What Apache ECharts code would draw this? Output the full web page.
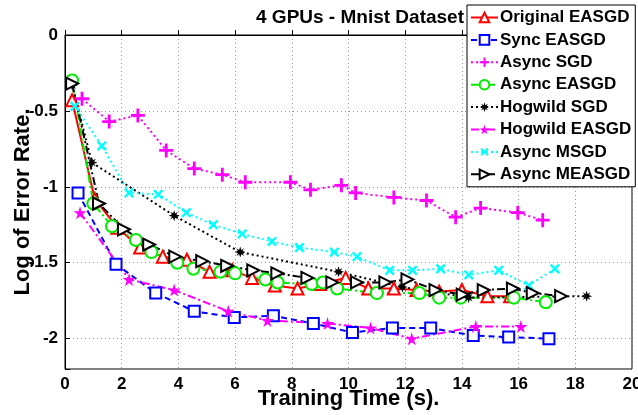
<!DOCTYPE html>
<html>
<head>
<meta charset="utf-8">
<script src="https://cdn.jsdelivr.net/npm/echarts@6/dist/echarts.min.js"></script>
<style>
  html, body { margin: 0; padding: 0; background: #fff; }
  #chart { width: 638px; height: 415px; }
</style>
</head>
<body>
<div id="chart"></div>
<script>
// values (x = training time in s, y = log of error rate)
const origX = [0.25, 1.05, 1.85, 2.65, 3.45, 4.3, 5.1, 5.9, 6.6, 7.4, 8.2, 9.0, 9.9, 10.7, 11.6, 12.4, 13.2, 14.0, 14.9, 15.7];
const origY = [-0.43, -1.08, -1.27, -1.40, -1.46, -1.48, -1.56, -1.55, -1.60, -1.65, -1.67, -1.64, -1.60, -1.67, -1.67, -1.68, -1.69, -1.68, -1.72, -1.72];

const syncX = [0.46, 1.8, 3.2, 4.56, 5.97, 7.35, 8.76, 10.14, 11.55, 12.9, 14.4, 15.65, 17.07];
const syncY = [-1.04, -1.51, -1.70, -1.82, -1.86, -1.85, -1.90, -1.96, -1.93, -1.93, -1.98, -1.99, -2.00];

const asgdX = [0.6, 1.56, 2.57, 3.57, 4.56, 5.55, 6.36, 7.95, 8.66, 9.75, 10.25, 11.6, 12.75, 13.78, 14.66, 15.97, 16.85];
const asgdY = [-0.42, -0.57, -0.53, -0.76, -0.88, -0.92, -0.97, -0.97, -1.02, -0.99, -1.04, -1.07, -1.09, -1.20, -1.14, -1.17, -1.22];

const aeasgdX = [0.25, 1.0, 1.66, 2.5, 3.05, 3.96, 4.53, 5.48, 6.0, 7.07, 7.5, 8.7, 9.1, 9.6, 11.0, 12.5, 13.2, 13.96, 15.83, 16.96];
const aeasgdY = [-0.30, -1.11, -1.26, -1.35, -1.43, -1.50, -1.54, -1.56, -1.57, -1.61, -1.63, -1.64, -1.63, -1.67, -1.70, -1.70, -1.73, -1.73, -1.73, -1.76];

const hsgdX = [0.25, 0.95, 3.85, 6.18, 9.65, 11.9, 14.24, 18.4];
const hsgdY = [-0.33, -0.84, -1.19, -1.43, -1.56, -1.66, -1.73, -1.72];

const heasgdX = [0.53, 2.26, 3.85, 5.76, 7.14, 9.26, 10.78, 12.23, 14.49, 16.08];
const heasgdY = [-1.17, -1.61, -1.68, -1.82, -1.88, -1.90, -1.93, -2.00, -1.92, -1.92];

const msgdX = [0.35, 1.3, 2.26, 3.29, 4.28, 5.23, 6.25, 7.3, 8.27, 9.5, 10.3, 11.45, 12.26, 13.25, 14.24, 15.3, 16.36, 17.28];
const msgdY = [-0.47, -0.73, -1.04, -1.05, -1.17, -1.25, -1.31, -1.36, -1.40, -1.43, -1.46, -1.55, -1.55, -1.54, -1.58, -1.55, -1.65, -1.54];

const measgdX = [0.25, 1.2, 2.08, 2.97, 3.89, 4.84, 5.72, 6.64, 7.49, 8.55, 9.43, 10.3, 11.3, 12.08, 13.07, 14.03, 14.77, 15.8, 16.5, 17.5];
const measgdY = [-0.32, -1.11, -1.28, -1.38, -1.46, -1.49, -1.52, -1.55, -1.57, -1.60, -1.63, -1.63, -1.63, -1.61, -1.68, -1.71, -1.68, -1.67, -1.70, -1.72];

const xTicks = [0, 2, 4, 6, 8, 10, 12, 14, 16, 18, 20];

function pairs(xs, ys) {
    return xs.map((x, i) => [x, ys[i]]);
}

const plusPath = 'path://M4,0H6V4H10V6H6V10H4V6H0V4H4Z';
const starPath = 'path://M50,0L61,35L98,35L68,57L79,91L50,70L21,91L32,57L2,35L39,35Z';
const asteriskPath = 'path://M50,0L60,30L85,15L70,40L100,50L70,60L85,85L60,70L50,100L40,70L15,85L30,60L0,50L30,40L15,15L40,30Z';

function makeSeries(name, xs, ys, color, lineType, symbol, size, opts) {
    opts = opts || {};
    return {
        name: name,
        type: 'line',
        data: pairs(xs, ys),
        symbol: symbol,
        symbolSize: size,
        symbolRotate: opts.rotate || 0,
        showAllSymbol: true,
        lineStyle: { color: color, width: 2, type: lineType },
        itemStyle: {
            color: opts.fill || color,
            borderColor: color,
            borderWidth: opts.border == null ? 2 : opts.border
        },
        emphasis: { disabled: true },
        animation: false
    };
}

const chart = echarts.init(document.getElementById('chart'));

const option = {
    backgroundColor: '#fff',
    title: {
        text: '4 GPUs - Mnist Dataset',
        left: 355,
        textAlign: 'center',
        top: 3,
        textStyle: { fontFamily: 'Liberation Sans', fontWeight: 'bold', fontSize: 19, color: '#000' }
    },
    legend: {
        orient: 'vertical',
        left: 467,
        top: 5,
        padding: [3, 4, 3, 3],
        itemGap: 3.4,
        itemWidth: 27,
        itemHeight: 12,
        backgroundColor: '#fff',
        borderColor: '#000',
        borderWidth: 1,
        borderRadius: 0,
        textStyle: { fontFamily: 'Liberation Sans', fontWeight: 'bold', fontSize: 17, color: '#000', lineHeight: 19, padding: [0, 0, 0, -3] }
    },
    grid: {
        left: 65,
        right: 6,
        top: 35,
        bottom: 46,
        outerBoundsMode: 'none',
        show: true,
        borderColor: '#000',
        borderWidth: 1,
        backgroundColor: '#fff'
    },
    xAxis: {
        type: 'value',
        min: 0,
        max: 20,
        interval: 2,
        name: 'Training Time (s).',
        nameLocation: 'middle',
        nameGap: 19,
        nameMoveOverlap: false,
        nameTextStyle: { fontFamily: 'Liberation Sans', fontWeight: 'bold', fontSize: 22, color: '#000' },
        axisLine: { lineStyle: { color: '#000', width: 1 } },
        axisTick: { inside: true, length: 5, lineStyle: { color: '#000' } },
        axisLabel: {
            margin: 7,
            fontFamily: 'Liberation Sans', fontWeight: 'bold', fontSize: 17, color: '#000',
            formatter: v => xTicks.indexOf(v) >= 0 ? String(v) : ''
        },
        splitLine: { show: true, lineStyle: { color: '#999', type: [1, 3], width: 1 } }
    },
    yAxis: {
        type: 'value',
        min: -2.2,
        max: 0,
        splitNumber: 5,
        name: 'Log of Error Rate.',
        nameLocation: 'middle',
        nameGap: 31,
        nameMoveOverlap: false,
        nameRotate: 90,
        nameTextStyle: { fontFamily: 'Liberation Sans', fontWeight: 'bold', fontSize: 22, color: '#000' },
        axisLine: { show: true, lineStyle: { color: '#000', width: 1 } },
        axisTick: { show: true, inside: true, length: 5, lineStyle: { color: '#000' } },
        axisLabel: {
            margin: 7,
            fontFamily: 'Liberation Sans', fontWeight: 'bold', fontSize: 17, color: '#000',
            formatter: v => (v < -2.1 ? '' : String(v))
        },
        splitLine: { show: true, lineStyle: { color: '#999', type: [1, 3], width: 1 } }
    },
    series: [
        makeSeries('Original EASGD', origX, origY, '#ff0000', 'solid', 'emptyTriangle', 12),
        makeSeries('Sync EASGD', syncX, syncY, '#0000ff', [6, 4], 'emptyRect', 11),
        makeSeries('Async SGD', asgdX, asgdY, '#ff00ff', [2, 3], plusPath, 14, { border: 0 }),
        makeSeries('Async EASGD', aeasgdX, aeasgdY, '#00ee00', [8, 3, 2, 3], 'emptyCircle', 12),
        makeSeries('Hogwild SGD', hsgdX, hsgdY, '#000000', [2, 3], asteriskPath, 11, { border: 0 }),
        makeSeries('Hogwild EASGD', heasgdX, heasgdY, '#ff00ff', [8, 3, 2, 3], starPath, 13, { border: 0 }),
        makeSeries('Async MSGD', msgdX, msgdY, '#00ffff', [2, 3], plusPath, 12, { border: 0, rotate: 45 }),
        makeSeries('Async MEASGD', measgdX, measgdY, '#000000', [8, 3, 2, 3], 'emptyTriangle', 12, { rotate: -90 })
    ]
};

chart.setOption(option);
</script>
</body>
</html>
